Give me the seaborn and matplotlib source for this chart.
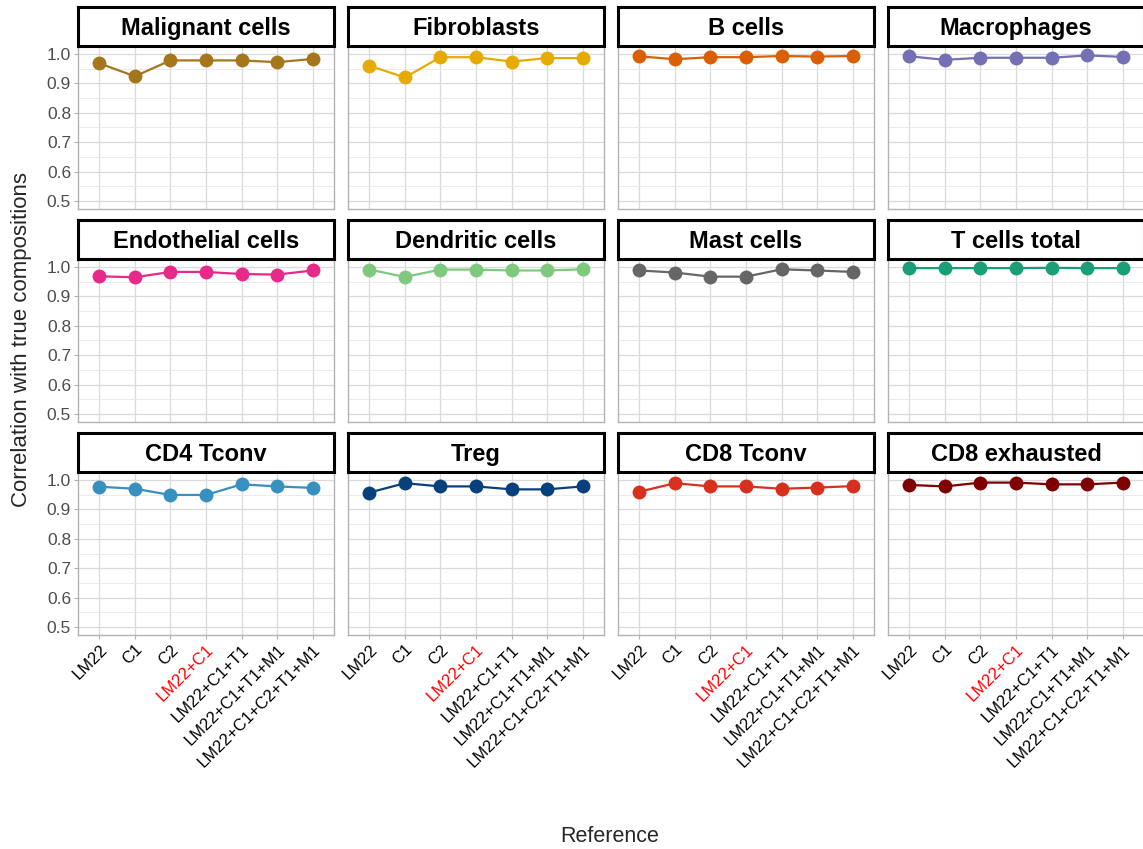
"""Deconvolution accuracy per cell type across reference sets."""
import matplotlib
matplotlib.use("Agg")
import matplotlib.pyplot as plt
from matplotlib.ticker import MultipleLocator
import numpy as np
import pandas as pd
import seaborn as sns

references = ["LM22", "C1", "C2", "LM22+C1", "LM22+C1+T1",
              "LM22+C1+T1+M1", "LM22+C1+C2+T1+M1"]
highlight = "LM22+C1"

cell_types = ["Malignant cells", "Fibroblasts", "B cells", "Macrophages",
              "Endothelial cells", "Dendritic cells", "Mast cells", "T cells total",
              "CD4 Tconv", "Treg", "CD8 Tconv", "CD8 exhausted"]

malignant = [0.968, 0.924, 0.978, 0.978, 0.978, 0.972, 0.983]
fibroblasts = [0.960, 0.920, 0.989, 0.989, 0.974, 0.986, 0.986]
b_cells = [0.992, 0.982, 0.989, 0.989, 0.993, 0.991, 0.993]
macrophages = [0.992, 0.980, 0.987, 0.987, 0.987, 0.995, 0.990]
endothelial = [0.968, 0.965, 0.983, 0.983, 0.976, 0.974, 0.988]
dendritic = [0.991, 0.966, 0.991, 0.991, 0.988, 0.988, 0.992]
mast = [0.988, 0.981, 0.967, 0.967, 0.992, 0.988, 0.983]
t_total = [0.996, 0.996, 0.996, 0.996, 0.997, 0.996, 0.996]
cd4_tconv = [0.977, 0.970, 0.949, 0.949, 0.985, 0.978, 0.973]
treg = [0.957, 0.989, 0.978, 0.978, 0.968, 0.968, 0.978]
cd8_tconv = [0.960, 0.989, 0.978, 0.978, 0.970, 0.974, 0.979]
cd8_exhausted = [0.983, 0.978, 0.991, 0.991, 0.985, 0.985, 0.991]

values = [malignant, fibroblasts, b_cells, macrophages, endothelial, dendritic,
          mast, t_total, cd4_tconv, treg, cd8_tconv, cd8_exhausted]

colors = ["#A6761D", "#E6AB02", "#D95F02", "#7570B3",
          "#E7298A", "#7FC97F", "#666666", "#1B9E77",
          "#3690C0", "#08407E", "#D7301F", "#7F0000"]

rows = []
for ct, vals in zip(cell_types, values):
    for ref, v in zip(references, vals):
        rows.append({"cell_type": ct, "reference": ref, "correlation": v})
df = pd.DataFrame(rows)
df["x"] = df["reference"].map({r: i for i, r in enumerate(references)})

sns.set_theme(style="white")
plt.rcParams["font.family"] = ["Liberation Sans", "DejaVu Sans"]

W, H = 1143, 849
fig = plt.figure(figsize=(W / 100, H / 100), dpi=100)

col_left = [78, 348, 618, 888]
row_top = [46, 259, 472]
pw, ph, sh = 256, 163, 39

for k, (ct, color) in enumerate(zip(cell_types, colors)):
    r, c = divmod(k, 4)
    left, top = col_left[c], row_top[r]
    ax = fig.add_axes([left / W, 1 - (top + ph) / H, pw / W, ph / H])
    sub = df[df["cell_type"] == ct]
    sns.lineplot(data=sub, x="x", y="correlation", color=color, lw=1.6, ax=ax,
                 marker="o", markersize=10, markeredgewidth=0, zorder=3)
    ax.set_xlim(-0.6, 6.6)
    ax.set_ylim(0.473, 1.027)
    ax.yaxis.set_major_locator(MultipleLocator(0.1))
    ax.yaxis.set_minor_locator(MultipleLocator(0.05))
    ax.set_xticks(range(len(references)))
    ax.grid(True, which="major", color="#DADADA", lw=0.9)
    ax.grid(True, which="minor", axis="y", color="#E8E8E8", lw=0.6)
    ax.set_axisbelow(True)
    for s in ax.spines.values():
        s.set_color("#B3B3B3")
        s.set_linewidth(1.0)
    ax.set_xlabel("")
    ax.set_ylabel("")
    ax.tick_params(which="major", length=3, color="#B3B3B3", width=0.8,
                   labelsize=12.5, labelcolor="#4D4D4D", pad=2)
    ax.tick_params(which="minor", length=0)
    if c == 0:
        ax.tick_params(axis="y", left=True)
        ax.set_yticklabels([f"{t:.1f}" for t in ax.get_yticks()])
    else:
        ax.tick_params(axis="y", left=False, labelleft=False)
    if r == 2:
        ax.tick_params(axis="x", bottom=True)
        ax.set_xticklabels(references, rotation=45, ha="right",
                           rotation_mode="anchor", fontsize=12)
        for lab in ax.get_xticklabels():
            lab.set_color("red" if lab.get_text() == highlight else "black")
    else:
        ax.tick_params(axis="x", bottom=False, labelbottom=False)

    sax = fig.add_axes([left / W, 1 - top / H, pw / W, sh / H])
    sax.set_xticks([])
    sax.set_yticks([])
    for s in sax.spines.values():
        s.set_color("black")
        s.set_linewidth(2.2)
    sax.text(0.5, 0.45, ct, ha="center", va="center", fontsize=17,
             fontweight="bold", color="black", transform=sax.transAxes)

fig.text(22 / W, 1 - 340 / H, "Correlation with true compositions",
         rotation=90, ha="center", va="center", fontsize=16)
fig.text(610 / W, 1 - 836 / H, "Reference", ha="center", va="center",
         fontsize=15.5)

fig.savefig("out.png", dpi=100)
plt.close(fig)
